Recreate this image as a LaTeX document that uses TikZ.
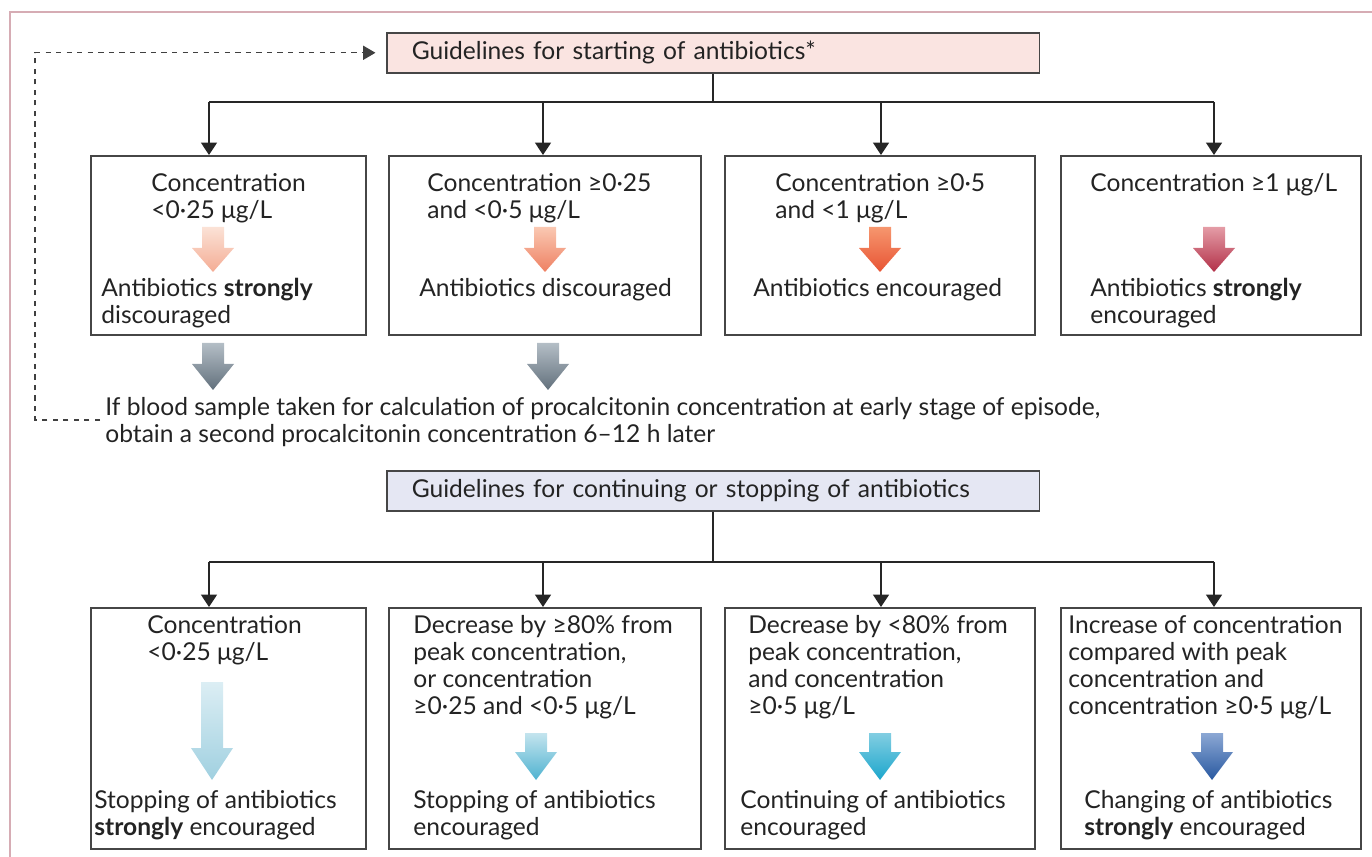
\documentclass[tikz,border=0pt]{standalone}
\usepackage{fontspec}
\setmainfont{Lato}
\usepackage{tikz}
\usetikzlibrary{arrows.meta,positioning,calc}

\definecolor{framepink}{RGB}{214,172,180}
\definecolor{boxgray}{RGB}{70,70,70}
\definecolor{textgray}{RGB}{35,35,35}
\definecolor{startfill}{RGB}{250,228,225}
\definecolor{stopfill}{RGB}{229,231,243}
% arrow shades, top and bottom
\definecolor{rA}{RGB}{251,226,214}\definecolor{rAb}{RGB}{244,172,148}
\definecolor{rB}{RGB}{250,200,178}\definecolor{rBb}{RGB}{238,128,98}
\definecolor{rC}{RGB}{246,150,110}\definecolor{rCb}{RGB}{232,84,52}
\definecolor{rD}{RGB}{228,156,166}\definecolor{rDb}{RGB}{178,48,72}
\definecolor{gA}{RGB}{180,190,198}\definecolor{gAb}{RGB}{98,112,124}
\definecolor{bA}{RGB}{220,238,244}\definecolor{bAb}{RGB}{160,208,224}
\definecolor{bB}{RGB}{196,228,238}\definecolor{bBb}{RGB}{78,178,208}
\definecolor{bC}{RGB}{130,206,226}\definecolor{bCb}{RGB}{28,166,204}
\definecolor{bD}{RGB}{140,168,212}\definecolor{bDb}{RGB}{40,88,160}

\newcommand{\boxfont}{\fontsize{14}{15.4}\selectfont}

% fat shaded arrow: x, top, bottom, head length, top colour, bottom colour
\newcommand{\fatarrow}[6]{%
	\shade[top color=#5, bottom color=#6]
		(#1-11,#2) -- (#1+11,#2) -- (#1+11,#3-#4) -- (#1+21,#3-#4)
		-- (#1,#3) -- (#1-21,#3-#4) -- (#1-11,#3-#4) -- cycle;}

\begin{document}
\begin{tikzpicture}[x=0.02cm, y=-0.02cm,
		box/.style={draw=boxgray, line width=0.9pt, anchor=north west, inner sep=0pt},
		header/.style={draw=boxgray, line width=0.9pt, anchor=north west,
			minimum width=13.06cm, minimum height=0.8cm, inner xsep=0.5cm,
			text width=12.06cm, align=left, text=textgray, font=\boxfont},
		txt/.style={anchor=north west, inner sep=0pt, align=left, text=textgray, font=\boxfont},
		link/.style={line width=0.9pt, draw=black!85},
		conn/.style={link, -{Triangle[width=9pt,length=7pt]}},
		feedback/.style={dashed, line width=0.7pt, draw=black!75, -{Triangle[width=8pt,length=7pt]}}]
	\useasboundingbox (0,0) rectangle (1372,857);
	
	% Outer frame
	\draw[framepink, line width=1pt] (10,857) -- (10,12) -- (1372,12);
	
	% Starting guidelines
	\node[header, fill=startfill] (h1) at (386,32) {Guidelines for starting of antibiotics*};
	
	\node[box, minimum width=5.5cm, minimum height=3.58cm] (s1) at (90,155) {};
	\node[box, minimum width=6.24cm, minimum height=3.58cm] (s2) at (388,155) {};
	\node[box, minimum width=6.2cm, minimum height=3.58cm] (s3) at (724,155) {};
	\node[box, minimum width=6.0cm, minimum height=3.58cm] (s4) at (1060,155) {};
	
	\foreach \i/\x in {1/209, 2/543, 3/881, 4/1214} {
		\coordinate (sb\i) at (\x,102);
		\draw[conn] (sb\i) -- (sb\i |- s\i.north);
	}
	\draw[link] (h1.south) -- (h1.south |- sb1);
	\draw[link] (sb1) -- (sb4);
	
	% Texts in the starting boxes
	\node[txt] (s1a) at (151,173) {Concentration\\<0·25 μg/L};
	\node[txt] (s1b) at (101,278) {Antibiotics \textbf{strongly}\\discouraged};
	\node[txt] (s2a) at (427,173) {Concentration ≥0·25\\and <0·5 μg/L};
	\node[txt] (s2b) at (419,278) {Antibiotics discouraged};
	\node[txt] (s3a) at (775,173) {Concentration ≥0·5\\and <1 μg/L};
	\node[txt] (s3b) at (753,278) {Antibiotics encouraged};
	\node[txt] (s4a) at (1090,173) {Concentration ≥1 μg/L};
	\node[txt] (s4b) at (1090,278) {Antibiotics \textbf{strongly}\\encouraged};
	
	\fatarrow{213}{227}{272}{24}{rA}{rAb}
	\fatarrow{545}{227}{272}{24}{rB}{rBb}
	\fatarrow{880}{227}{272}{24}{rC}{rCb}
	\fatarrow{1214}{227}{272}{24}{rD}{rDb}
	
	% Second sample
	\fatarrow{213}{343}{390}{26}{gA}{gAb}
	\fatarrow{548}{343}{390}{26}{gA}{gAb}
	\node[txt] (note) at (105,397) {If blood sample taken for calculation of procalcitonin concentration at early stage of episode,\\obtain a second procalcitonin concentration 6–12 h later};
	\coordinate (fb0) at (100,420);
	\coordinate (fb1) at (35,420);
	\draw[feedback, shorten >=6pt] (fb0) -- (fb1) |- (h1.west);
	
	% Continuing or stopping guidelines
	\node[header, fill=stopfill] (h2) at (386,470) {Guidelines for continuing or stopping of antibiotics};
	
	\node[box, minimum width=5.5cm, minimum height=4.82cm] (c1) at (90,607) {};
	\node[box, minimum width=6.24cm, minimum height=4.82cm] (c2) at (388,607) {};
	\node[box, minimum width=6.2cm, minimum height=4.82cm] (c3) at (724,607) {};
	\node[box, minimum width=6.0cm, minimum height=4.82cm] (c4) at (1060,607) {};
	
	\foreach \i/\x in {1/209, 2/543, 3/881, 4/1214} {
		\coordinate (cb\i) at (\x,562);
		\draw[conn] (cb\i) -- (cb\i |- c\i.north);
	}
	\draw[link] (h2.south) -- (h2.south |- cb1);
	\draw[link] (cb1) -- (cb4);
	
	% Texts in the continuing boxes
	\node[txt] (c1a) at (147,615) {Concentration\\<0·25 μg/L};
	\node[txt] (c1b) at (94,790) {Stopping of antibiotics\\\textbf{strongly} encouraged};
	\node[txt] (c2a) at (413,615) {Decrease by ≥80\% from\\peak concentration,\\or concentration\\≥0·25 and <0·5 μg/L};
	\node[txt] (c2b) at (413,790) {Stopping of antibiotics\\encouraged};
	\node[txt] (c3a) at (748,615) {Decrease by <80\% from\\peak concentration,\\and concentration\\≥0·5 μg/L};
	\node[txt] (c3b) at (740,790) {Continuing of antibiotics\\encouraged};
	\node[txt] (c4a) at (1068,615) {Increase of concentration\\compared with peak\\concentration and\\concentration ≥0·5 μg/L};
	\node[txt] (c4b) at (1084,790) {Changing of antibiotics\\\textbf{strongly} encouraged};
	
	\fatarrow{212}{682}{780}{32}{bA}{bAb}
	\fatarrow{536}{733}{780}{28}{bB}{bBb}
	\fatarrow{880}{733}{780}{28}{bC}{bCb}
	\fatarrow{1212}{733}{780}{28}{bD}{bDb}
\end{tikzpicture}
\end{document}
